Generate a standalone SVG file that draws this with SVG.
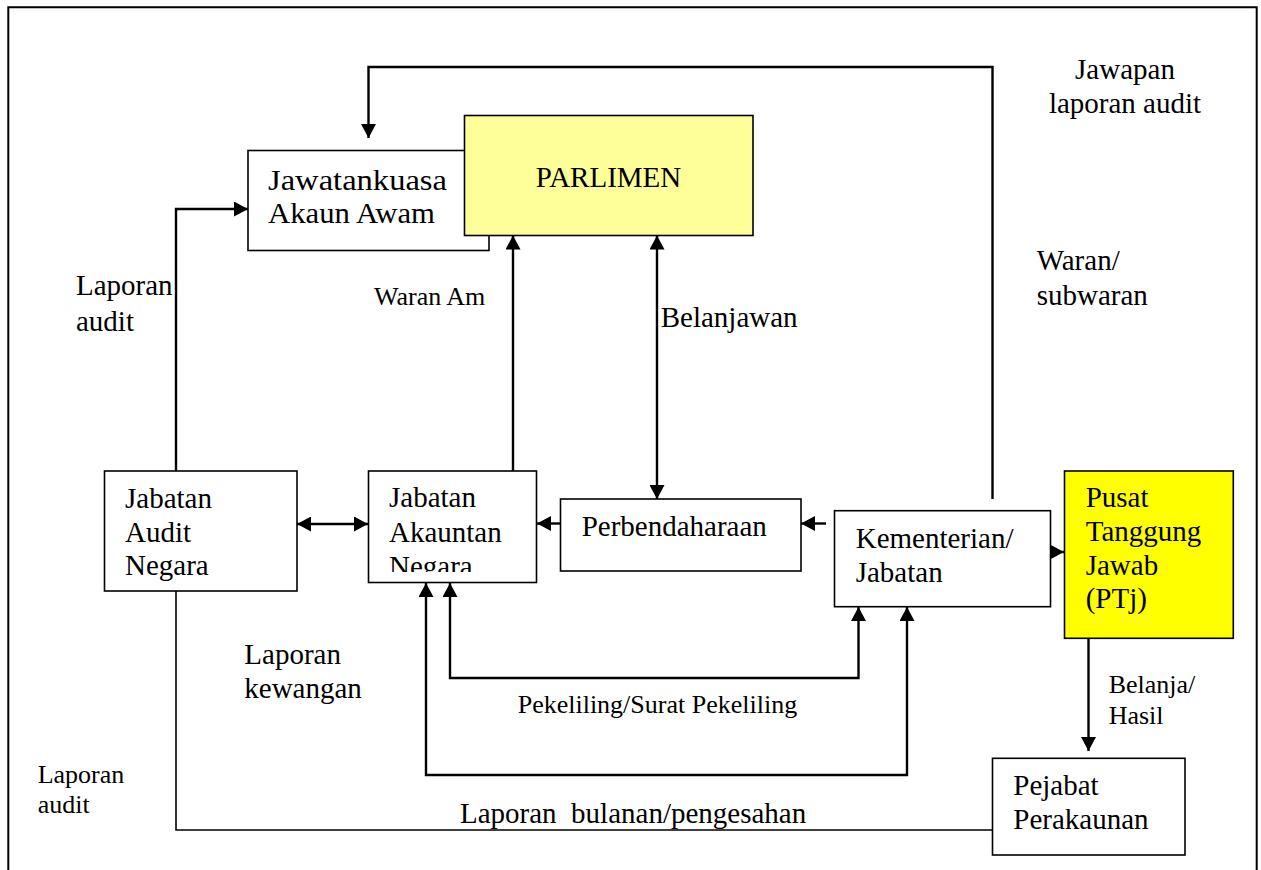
<svg xmlns="http://www.w3.org/2000/svg" width="1261" height="870" viewBox="0 0 1261 870">
<style>
  .box{fill:#fff;stroke:#000;stroke-width:1.6}
  .t{font-family:"Liberation Serif","Times New Roman","DejaVu Serif",serif;fill:#000}
  .n{font-size:29px}
  .s{font-size:26px}
  .c{fill:none;stroke:#000;stroke-width:2.4}
  .a{marker-end:url(#ah)}
  .b{marker-start:url(#ah);marker-end:url(#ah)}
</style>
<defs>
  <marker id="ah" viewBox="0 0 14 15" markerUnits="userSpaceOnUse" markerWidth="14" markerHeight="15" refX="14" refY="7.5" orient="auto-start-reverse">
    <path d="M0,0 L14,7.5 L0,15 z" fill="#000"/>
  </marker>
  <clipPath id="clipAkn"><rect x="368" y="471" width="169" height="101"/></clipPath>
</defs>
<rect width="1261" height="870" fill="#fff"/>
<path d="M8.3,870 V7.3 H1256.7 V870" fill="none" stroke="#000" stroke-width="2"/>

<g id="connectors">
  <path class="c a" d="M992.5,499 V67 H368.5 V138"/>
  <path class="c a" d="M176,471 V209 H248"/>
  <path class="c a" d="M513,476 V235.5"/>
  <path class="c b" d="M657,235.5 V499"/>
  <path class="c b" d="M297,524 H368"/>
  <path class="c a" d="M560,523.5 H537"/>
  <path class="c a" d="M826,523.5 H801"/>
  <path class="c a" d="M1040,552 H1064"/>
  <path class="c a" d="M1088.5,636 V751"/>
  <path class="c b" d="M450,583 V678 H858.5 V607"/>
  <path class="c b" d="M426,583 V775 H907 V607"/>
  <path fill="none" stroke="#000" stroke-width="1.6" d="M992,830 H176 V591"/>
</g>

<g id="node-jka">
  <rect class="box" x="248" y="150.5" width="241" height="100"/>
  <text class="t n" x="268" y="190" textLength="179" lengthAdjust="spacingAndGlyphs">Jawatankuasa</text>
  <text class="t n" x="268" y="223" textLength="167" lengthAdjust="spacingAndGlyphs">Akaun Awam</text>
</g>
<g id="node-parlimen">
  <rect x="464.5" y="115.5" width="288.5" height="120" fill="#FFFF99" stroke="#000" stroke-width="1.6"/>
  <text class="t n" x="608.5" y="187" text-anchor="middle">PARLIMEN</text>
</g>
<g id="node-audit">
  <rect class="box" x="104.5" y="471" width="192.5" height="120"/>
  <text class="t n" x="125" y="508">Jabatan</text>
  <text class="t n" x="125" y="541.5">Audit</text>
  <text class="t n" x="125" y="575">Negara</text>
</g>
<g id="node-akauntan">
  <rect class="box" x="368.5" y="471" width="168" height="111.5"/>
  <g clip-path="url(#clipAkn)">
    <text class="t n" x="389" y="507">Jabatan</text>
    <text class="t n" x="389" y="541.5">Akauntan</text>
    <text class="t n" x="389" y="575.5">Negara</text>
  </g>
</g>
<g id="node-perbendaharaan">
  <rect class="box" x="560.5" y="499" width="240.5" height="72"/>
  <text class="t n" x="581.7" y="536">Perbendaharaan</text>
</g>
<g id="node-kementerian">
  <rect class="box" x="834.5" y="510.7" width="216" height="96"/>
  <text class="t n" x="855.7" y="548.3">Kementerian/</text>
  <text class="t n" x="855.7" y="581.7">Jabatan</text>
</g>
<g id="node-ptj">
  <rect x="1064.5" y="471" width="168.8" height="167.3" fill="#FFFF00" stroke="#000" stroke-width="1.6"/>
  <text class="t n" x="1085.7" y="507.3">Pusat</text>
  <text class="t n" x="1085.7" y="541">Tanggung</text>
  <text class="t n" x="1085.7" y="574.7">Jawab</text>
  <text class="t n" x="1085.7" y="608.4">(PTj)</text>
</g>
<g id="node-pejabat">
  <rect class="box" x="992.5" y="758.3" width="192.5" height="96.7"/>
  <text class="t n" x="1013.3" y="795">Pejabat</text>
  <text class="t n" x="1013.3" y="829.3">Perakaunan</text>
</g>

<g id="labels">
  <text class="t n" x="1125" y="79.3" text-anchor="middle">Jawapan</text>
  <text class="t n" x="1125" y="113.3" text-anchor="middle">laporan audit</text>
  <text class="t n" x="1036.7" y="270">Waran/</text>
  <text class="t n" x="1036.7" y="305">subwaran</text>
  <text class="t n" x="76" y="295">Laporan</text>
  <text class="t n" x="76" y="331">audit</text>
  <text class="t s" x="374" y="305">Waran Am</text>
  <text class="t n" x="660.7" y="326.7">Belanjawan</text>
  <text class="t n" x="244.3" y="664.3">Laporan</text>
  <text class="t n" x="244.3" y="698.3">kewangan</text>
  <text class="t s" x="517.7" y="713.3">Pekeliling/Surat Pekeliling</text>
  <text class="t n" x="460" y="823.3" xml:space="preserve">Laporan  bulanan/pengesahan</text>
  <text class="t s" x="37.7" y="782.7">Laporan</text>
  <text class="t s" x="37.7" y="813.3">audit</text>
  <text class="t s" x="1108.7" y="693.3">Belanja/</text>
  <text class="t s" x="1108.7" y="724.3">Hasil</text>
</g>
</svg>
